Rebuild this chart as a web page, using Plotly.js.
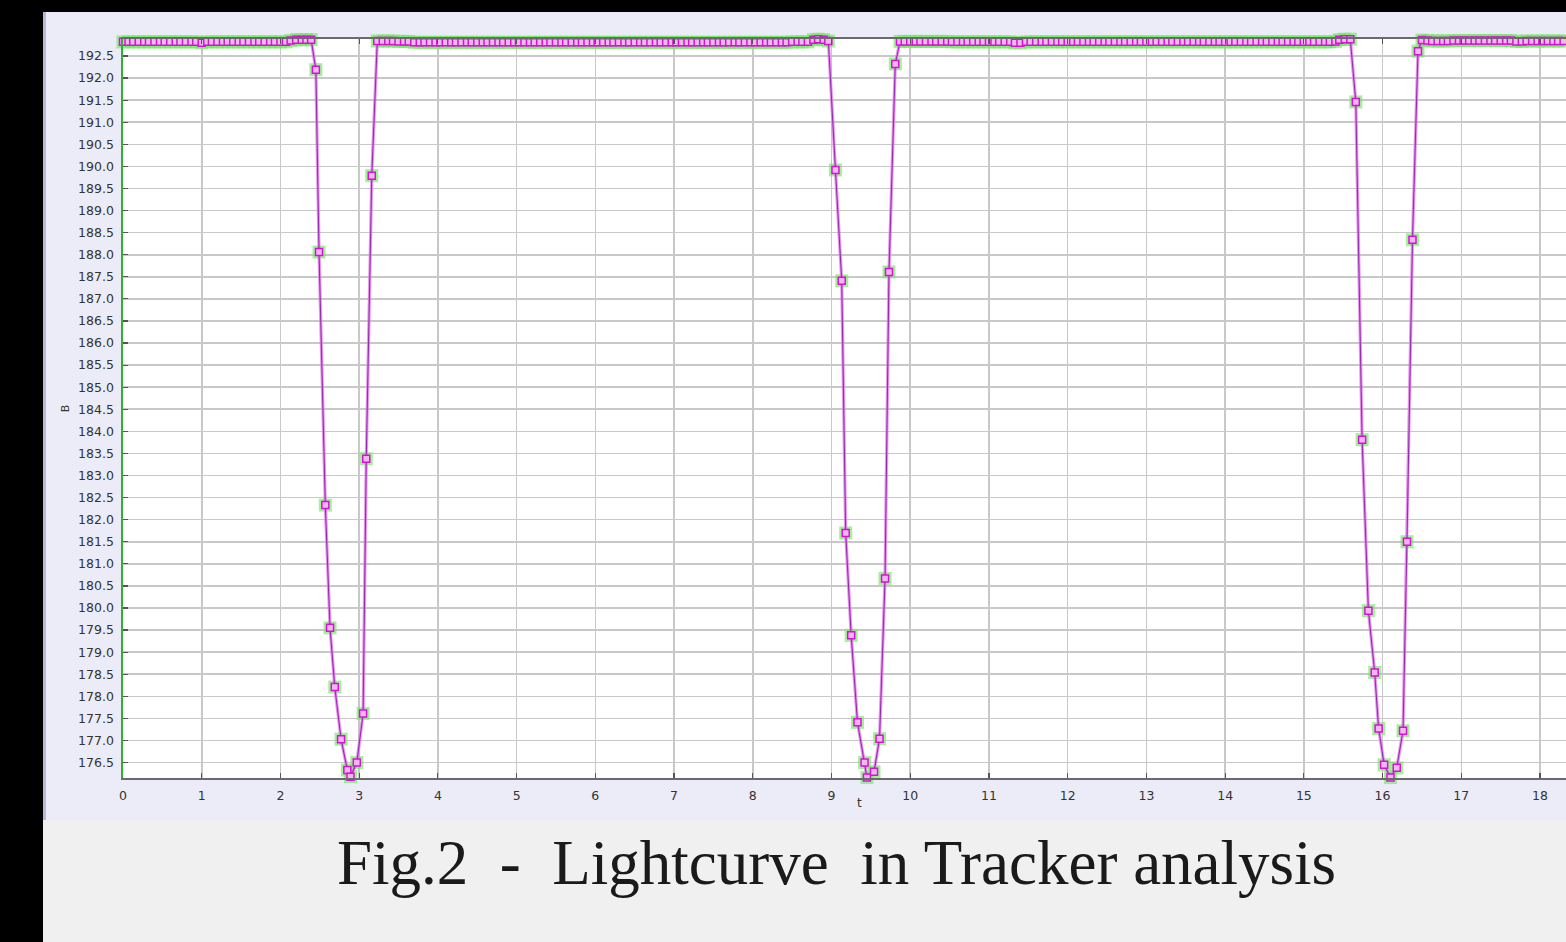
<!DOCTYPE html>
<html>
<head>
<meta charset="utf-8">
<script src="https://cdn.plot.ly/plotly-3.0.1.min.js"></script>
<style>
  html, body { margin: 0; padding: 0; background: #f0f0f0; }
  #chart { width: 1566px; height: 942px; }
</style>
</head>
<body>
<div id="chart"></div>
<script>
// ---- Data (t in s, B = brightness) ----
const quiet1T = [0.00, 0.07, 0.13, 0.20, 0.27, 0.33, 0.40, 0.47, 0.53, 0.60,
                 0.67, 0.73, 0.80, 0.87, 0.93, 1.00, 1.07, 1.13, 1.20, 1.27,
                 1.33, 1.40, 1.47, 1.53, 1.60, 1.67, 1.73, 1.80, 1.87, 1.93,
                 2.00, 2.07, 2.13, 2.20, 2.27, 2.33, 2.39];
const quiet1B = [192.82, 192.82, 192.82, 192.82, 192.82, 192.82, 192.82, 192.82, 192.82, 192.82,
                 192.82, 192.82, 192.82, 192.82, 192.82, 192.80, 192.82, 192.82, 192.82, 192.82,
                 192.82, 192.82, 192.82, 192.82, 192.82, 192.82, 192.82, 192.82, 192.82, 192.82,
                 192.82, 192.82, 192.85, 192.87, 192.87, 192.87, 192.87];

const dip1T = [2.45, 2.49, 2.57, 2.63, 2.69, 2.77, 2.85, 2.89, 2.97, 3.05, 3.09, 3.16];
const dip1B = [192.19, 188.06, 182.33, 179.55, 178.21, 177.03, 176.33, 176.18, 176.50, 177.61, 183.38, 189.79];

const quiet2T = [3.23, 3.30, 3.37, 3.43, 3.50, 3.57, 3.63, 3.70, 3.77, 3.83,
                 3.90, 3.97, 4.03, 4.10, 4.17, 4.23, 4.30, 4.37, 4.43, 4.50,
                 4.57, 4.63, 4.70, 4.77, 4.83, 4.90, 4.97, 5.03, 5.10, 5.17,
                 5.23, 5.30, 5.37, 5.43, 5.50, 5.57, 5.63, 5.70, 5.77, 5.83,
                 5.90, 5.97, 6.03, 6.10, 6.17, 6.23, 6.30, 6.37, 6.43, 6.50,
                 6.57, 6.63, 6.70, 6.77, 6.83, 6.90, 6.97, 7.03, 7.10, 7.17,
                 7.23, 7.30, 7.37, 7.43, 7.50, 7.57, 7.63, 7.70, 7.77, 7.83,
                 7.90, 7.97, 8.03, 8.10, 8.17, 8.23, 8.30, 8.37, 8.43, 8.50,
                 8.57, 8.63, 8.70, 8.77, 8.83, 8.90, 8.96];
const quiet2B = [192.84, 192.84, 192.84, 192.84, 192.83, 192.83, 192.83, 192.81, 192.81, 192.81,
                 192.81, 192.81, 192.81, 192.81, 192.81, 192.81, 192.81, 192.81, 192.81, 192.81,
                 192.81, 192.81, 192.81, 192.81, 192.81, 192.81, 192.81, 192.81, 192.81, 192.81,
                 192.81, 192.81, 192.81, 192.81, 192.81, 192.81, 192.81, 192.81, 192.81, 192.81,
                 192.81, 192.81, 192.81, 192.81, 192.81, 192.81, 192.81, 192.81, 192.81, 192.81,
                 192.81, 192.81, 192.81, 192.81, 192.81, 192.81, 192.81, 192.81, 192.81, 192.81,
                 192.81, 192.81, 192.81, 192.81, 192.81, 192.81, 192.81, 192.81, 192.81, 192.81,
                 192.81, 192.81, 192.81, 192.81, 192.81, 192.81, 192.81, 192.81, 192.81, 192.82,
                 192.82, 192.82, 192.82, 192.87, 192.88, 192.87, 192.84];

const dip2T = [9.05, 9.13, 9.18, 9.25, 9.33, 9.42, 9.45, 9.54, 9.61, 9.68, 9.73, 9.81];
const dip2B = [189.92, 187.41, 181.70, 179.38, 177.41, 176.50, 176.16, 176.29, 177.04, 180.67, 187.61, 192.32];

const quiet3T = [9.87, 9.93, 10.00, 10.07, 10.13, 10.20, 10.27, 10.33, 10.40, 10.47,
                 10.53, 10.60, 10.67, 10.73, 10.80, 10.87, 10.93, 11.00, 11.07, 11.13,
                 11.20, 11.27, 11.33, 11.40, 11.47, 11.53, 11.60, 11.67, 11.73, 11.80,
                 11.87, 11.93, 12.00, 12.07, 12.13, 12.20, 12.27, 12.33, 12.40, 12.47,
                 12.53, 12.60, 12.67, 12.73, 12.80, 12.87, 12.93, 13.00, 13.07, 13.13,
                 13.20, 13.27, 13.33, 13.40, 13.47, 13.53, 13.60, 13.67, 13.73, 13.80,
                 13.87, 13.93, 14.00, 14.07, 14.13, 14.20, 14.27, 14.33, 14.40, 14.47,
                 14.53, 14.60, 14.67, 14.73, 14.80, 14.87, 14.93, 15.00, 15.07, 15.13,
                 15.20, 15.27, 15.33, 15.40, 15.45, 15.52, 15.59];
const quiet3B = [192.83, 192.83, 192.83, 192.83, 192.83, 192.83, 192.83, 192.83, 192.83, 192.83,
                 192.82, 192.82, 192.82, 192.82, 192.82, 192.82, 192.82, 192.82, 192.82, 192.82,
                 192.82, 192.82, 192.80, 192.80, 192.82, 192.82, 192.82, 192.82, 192.82, 192.82,
                 192.82, 192.82, 192.82, 192.82, 192.82, 192.82, 192.82, 192.82, 192.82, 192.82,
                 192.82, 192.82, 192.82, 192.82, 192.82, 192.82, 192.82, 192.82, 192.82, 192.82,
                 192.82, 192.82, 192.82, 192.82, 192.82, 192.82, 192.82, 192.82, 192.82, 192.82,
                 192.82, 192.82, 192.82, 192.82, 192.82, 192.82, 192.82, 192.82, 192.82, 192.82,
                 192.82, 192.82, 192.82, 192.82, 192.82, 192.82, 192.82, 192.82, 192.82, 192.82,
                 192.82, 192.82, 192.82, 192.83, 192.87, 192.88, 192.88];

const dip3T = [15.66, 15.74, 15.82, 15.90, 15.95, 16.02, 16.10, 16.18, 16.26, 16.31, 16.38, 16.45];
const dip3B = [191.46, 183.81, 179.94, 178.54, 177.27, 176.45, 176.16, 176.38, 177.22, 181.50, 188.34, 192.61];

const quiet4T = [16.50, 16.57, 16.63, 16.70, 16.77, 16.83, 16.90, 16.97, 17.03, 17.10,
                 17.17, 17.23, 17.30, 17.37, 17.43, 17.50, 17.57, 17.63, 17.70, 17.77,
                 17.83, 17.90, 17.97, 18.03, 18.10, 18.17, 18.23, 18.30, 18.37];
const quiet4B = [192.86, 192.85, 192.84, 192.84, 192.84, 192.84, 192.85, 192.85, 192.85, 192.85,
                 192.85, 192.85, 192.85, 192.85, 192.85, 192.85, 192.85, 192.85, 192.83, 192.83,
                 192.84, 192.84, 192.84, 192.84, 192.84, 192.84, 192.84, 192.84, 192.84];

const xAxisTitle = 't';
const yAxisTitle = 'B';
const caption = 'Fig.2\u00a0\u00a0-\u00a0\u00a0Lightcurve\u00a0\u00a0in Tracker analysis';

// ---- Build series ----
const tAll = [].concat(quiet1T, dip1T, quiet2T, dip2T, quiet3T, dip3T, quiet4T);
const bAll = [].concat(quiet1B, dip1B, quiet2B, dip2B, quiet3B, dip3B, quiet4B);

// ---- Pixel helpers for the frame (plot area: x 123..1566, y 39..778) ----
const PL = 123, PR = 1566, PT = 39, PB = 778;
const px = v => (v - PL) / (PR - PL);
const py = v => (PB - v) / (PB - PT);

const traces = [
  { // green glow around markers
    x: tAll, y: bAll, type: 'scatter', mode: 'markers', cliponaxis: false,
    hoverinfo: 'skip',
    marker: { symbol: 'square', size: 13, color: 'rgba(110,235,95,0.65)', line: { width: 0 } }
  },
  { // soft pink halo of the line
    x: tAll, y: bAll, type: 'scatter', mode: 'lines', cliponaxis: false,
    hoverinfo: 'skip',
    line: { color: 'rgba(225,125,235,0.8)', width: 3.2 }
  },
  {
    x: tAll, y: bAll, type: 'scatter', mode: 'lines+markers', cliponaxis: false,
    name: 'B',
    line: { color: '#9a2bb0', width: 1.1 },
    marker: { symbol: 'square', size: 7, color: '#f3b6f3', line: { color: '#d414d4', width: 1.5 } }
  }
];

const layout = {
  width: 1566, height: 942, autosize: false,
  margin: { l: PL, r: 0, t: PT, b: 942 - PB, pad: 0 },
  paper_bgcolor: '#f0f0f0',
  plot_bgcolor: 'rgba(0,0,0,0)',
  showlegend: false,
  font: { family: 'DejaVu Sans, Liberation Sans, sans-serif', color: '#333' },
  xaxis: {
    range: [0, 18.33], dtick: 1, tick0: 0,
    showgrid: true, gridcolor: '#c8c8c8', gridwidth: 1.6,
    zeroline: false,
    showline: true, linecolor: '#6a6a6a', linewidth: 1.6, mirror: 'ticks',
    ticks: 'inside', ticklen: 5, tickcolor: '#555', tickwidth: 1.2,
    tickfont: { size: 12.5, color: '#333' },
    ticklabelstandoff: 5
  },
  yaxis: {
    range: [176.15, 192.885], dtick: 0.5, tick0: 176.5, tickformat: '.1f',
    showgrid: true, gridcolor: '#c8c8c8', gridwidth: 1.6,
    zeroline: false,
    showline: true, linecolor: '#2fb02f', linewidth: 1.6,
    ticks: 'inside', ticklen: 5, tickcolor: '#555', tickwidth: 1.2,
    tickfont: { size: 12.5, color: '#333' },
    ticklabelstandoff: 5,
    title: { text: yAxisTitle, font: { size: 11, color: '#333' }, standoff: 6 }
  },
  shapes: [
    { type: 'rect', xref: 'paper', yref: 'paper', layer: 'below',
      x0: px(0), x1: px(43), y0: py(942), y1: py(0), fillcolor: '#000', line: { width: 0 } },
    { type: 'rect', xref: 'paper', yref: 'paper', layer: 'below',
      x0: px(0), x1: 1, y0: py(12), y1: py(0), fillcolor: '#000', line: { width: 0 } },
    { type: 'rect', xref: 'paper', yref: 'paper', layer: 'below',
      x0: px(43), x1: px(46), y0: py(820), y1: py(12), fillcolor: '#b2bad8', line: { width: 0 } },
    { type: 'rect', xref: 'paper', yref: 'paper', layer: 'below',
      x0: px(46), x1: 1, y0: py(820), y1: py(12), fillcolor: '#ececf8', line: { width: 0 } },
    { type: 'rect', xref: 'paper', yref: 'paper', layer: 'below',
      x0: 0, x1: 1, y0: 0, y1: 1, fillcolor: '#ffffff', line: { width: 0 } }
  ],
  annotations: [
    { text: xAxisTitle, xref: 'x', yref: 'paper', x: 9.36, y: py(803),
      xanchor: 'center', yanchor: 'middle', showarrow: false,
      font: { size: 12, color: '#333' } },
    { text: caption, xref: 'paper', yref: 'paper', x: px(836), y: py(863),
      xanchor: 'center', yanchor: 'middle', showarrow: false,
      font: { family: 'Liberation Serif, DejaVu Serif, serif', size: 63, color: '#1a1a1a' } }
  ]
};

Plotly.newPlot('chart', traces, layout, { displayModeBar: false, staticPlot: true });
</script>
</body>
</html>
